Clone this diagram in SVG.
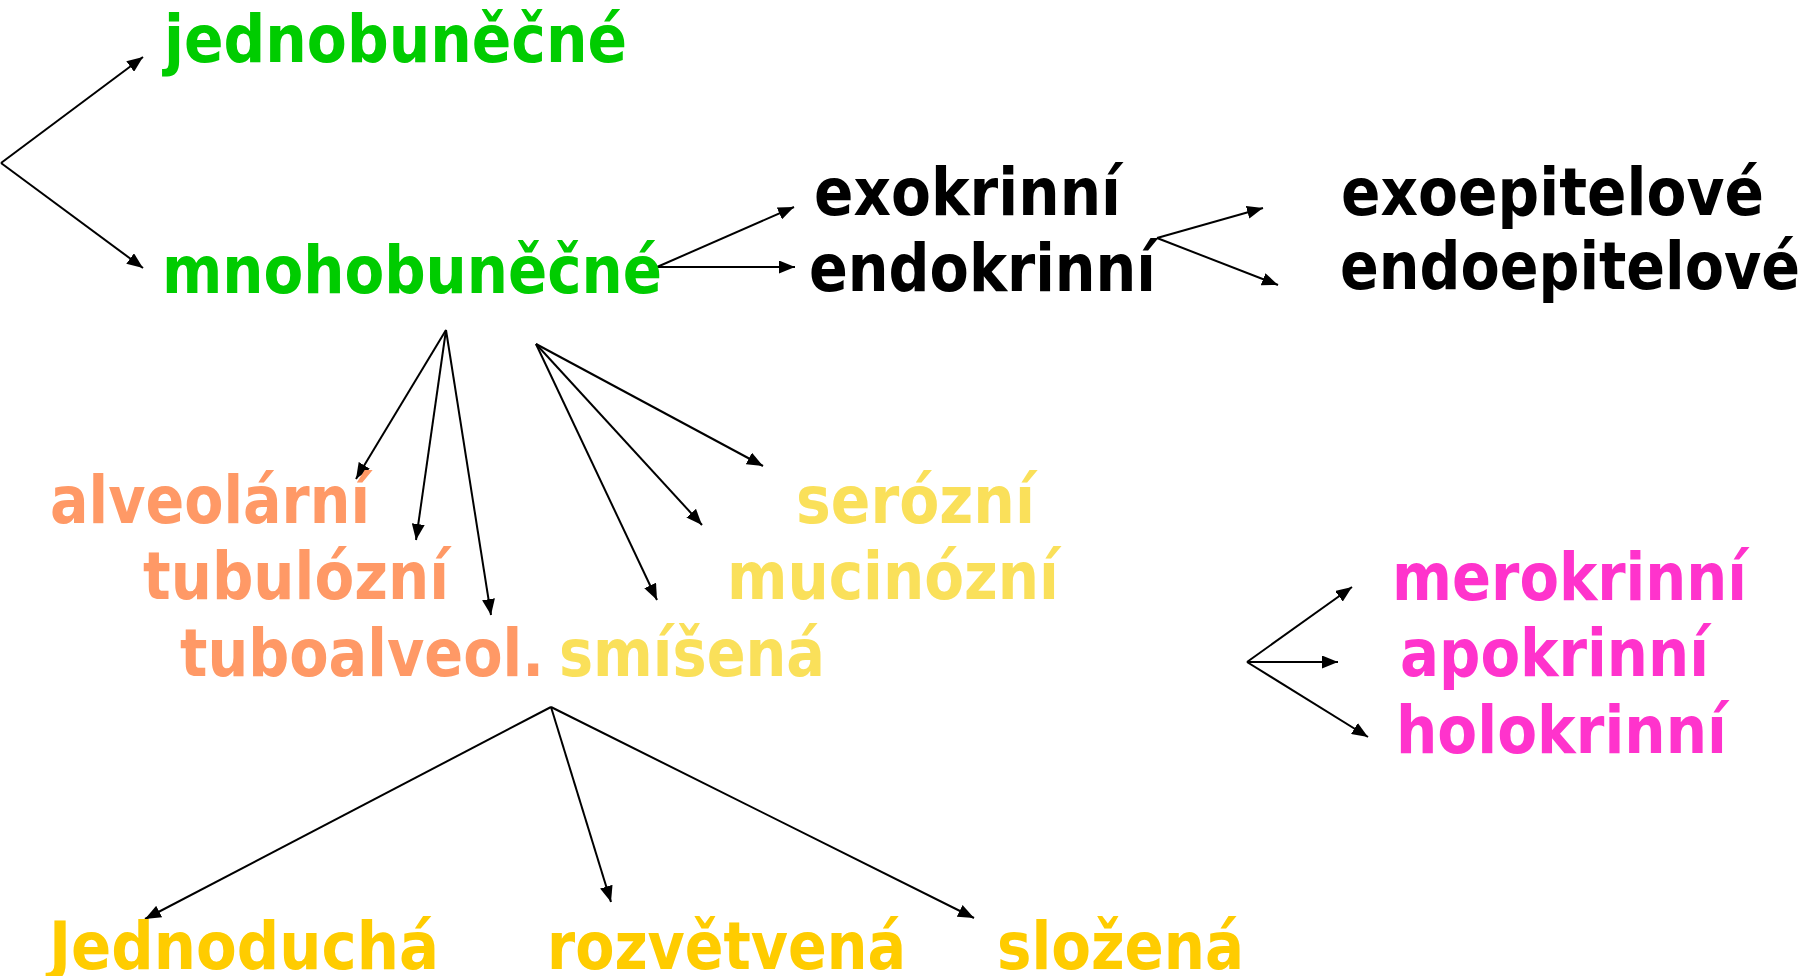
<svg xmlns="http://www.w3.org/2000/svg" width="1816" height="976" viewBox="0 0 1816 976">
  <defs>
    <marker id="arr" markerUnits="userSpaceOnUse" markerWidth="17" markerHeight="13" refX="16" refY="6.5" orient="auto">
      <path d="M0,0 L16,6.5 L0,13 z" fill="#000"/>
    </marker>
    <style>
      text { font-family: "DejaVu Sans", Verdana, sans-serif; font-weight: bold; font-size: 65px; }
      .green { fill: #00CC00; }
      .black { fill: #000000; }
      .orange { fill: #FF9966; }
      .lyellow { fill: #FAE05A; }
      .gold { fill: #FFCC00; }
      .pink { fill: #FF33CC; }
      .conn line { stroke: #000; stroke-width: 2; marker-end: url(#arr); }
    </style>
  </defs>
  <rect width="1816" height="976" fill="#fff"/>

  <g id="connectors" class="conn">
    <line x1="1" y1="163" x2="143" y2="57"/>
    <line x1="1" y1="163" x2="143" y2="268"/>
    <line x1="657" y1="267" x2="794" y2="207"/>
    <line x1="657" y1="267" x2="795" y2="267"/>
    <line x1="1157" y1="238" x2="1263" y2="208"/>
    <line x1="1157" y1="238" x2="1278" y2="285"/>
    <line x1="446" y1="330" x2="356" y2="479"/>
    <line x1="446" y1="330" x2="416" y2="540"/>
    <line x1="446" y1="330" x2="491" y2="615"/>
    <line x1="536" y1="344" x2="657" y2="600"/>
    <line x1="536" y1="344" x2="702" y2="525"/>
    <line x1="536" y1="344" x2="763" y2="466"/>
    <line x1="1247" y1="662" x2="1352" y2="587"/>
    <line x1="1247" y1="662" x2="1338" y2="662"/>
    <line x1="1247" y1="662" x2="1368" y2="737"/>
    <line x1="551" y1="707" x2="145" y2="919"/>
    <line x1="551" y1="707" x2="611" y2="902"/>
    <line x1="551" y1="707" x2="974" y2="918"/>
  </g>

  <g id="jednobunecne"><text class="green" x="164" y="62" textLength="463" lengthAdjust="spacingAndGlyphs">jednobuněčné</text></g>
  <g id="mnohobunecne"><text class="green" x="162" y="293" textLength="500" lengthAdjust="spacingAndGlyphs">mnohobuněčné</text></g>
  <g id="exokrinni"><text class="black" x="814" y="215" textLength="307" lengthAdjust="spacingAndGlyphs">exokrinní</text></g>
  <g id="endokrinni"><text class="black" x="809" y="291" textLength="347" lengthAdjust="spacingAndGlyphs">endokrinní</text></g>
  <g id="exoepitelove"><text class="black" x="1341" y="215" textLength="423" lengthAdjust="spacingAndGlyphs">exoepitelové</text></g>
  <g id="endoepitelove"><text class="black" x="1340" y="289" textLength="460" lengthAdjust="spacingAndGlyphs">endoepitelové</text></g>
  <g id="alveolarni"><text class="orange" x="50" y="523" textLength="320" lengthAdjust="spacingAndGlyphs">alveolární</text></g>
  <g id="tubulozni"><text class="orange" x="143" y="599" textLength="306" lengthAdjust="spacingAndGlyphs">tubulózní</text></g>
  <g id="tuboalveol"><text class="orange" x="180" y="676" textLength="364" lengthAdjust="spacingAndGlyphs">tuboalveol.</text></g>
  <g id="smisena"><text class="lyellow" x="559" y="676" textLength="266" lengthAdjust="spacingAndGlyphs">smíšená</text></g>
  <g id="serozni"><text class="lyellow" x="796" y="523" textLength="239" lengthAdjust="spacingAndGlyphs">serózní</text></g>
  <g id="mucinozni"><text class="lyellow" x="727" y="599" textLength="332" lengthAdjust="spacingAndGlyphs">mucinózní</text></g>
  <g id="merokrinni"><text class="pink" x="1392" y="600" textLength="355" lengthAdjust="spacingAndGlyphs">merokrinní</text></g>
  <g id="apokrinni"><text class="pink" x="1400" y="676" textLength="309" lengthAdjust="spacingAndGlyphs">apokrinní</text></g>
  <g id="holokrinni"><text class="pink" x="1396" y="753" textLength="331" lengthAdjust="spacingAndGlyphs">holokrinní</text></g>
  <g id="jednoducha"><text class="gold" x="49" y="969" textLength="390" lengthAdjust="spacingAndGlyphs">Jednoduchá</text></g>
  <g id="rozvetvena"><text class="gold" x="547" y="969" textLength="359" lengthAdjust="spacingAndGlyphs">rozvětvená</text></g>
  <g id="slozena"><text class="gold" x="997" y="969" textLength="247" lengthAdjust="spacingAndGlyphs">složená</text></g>
</svg>
